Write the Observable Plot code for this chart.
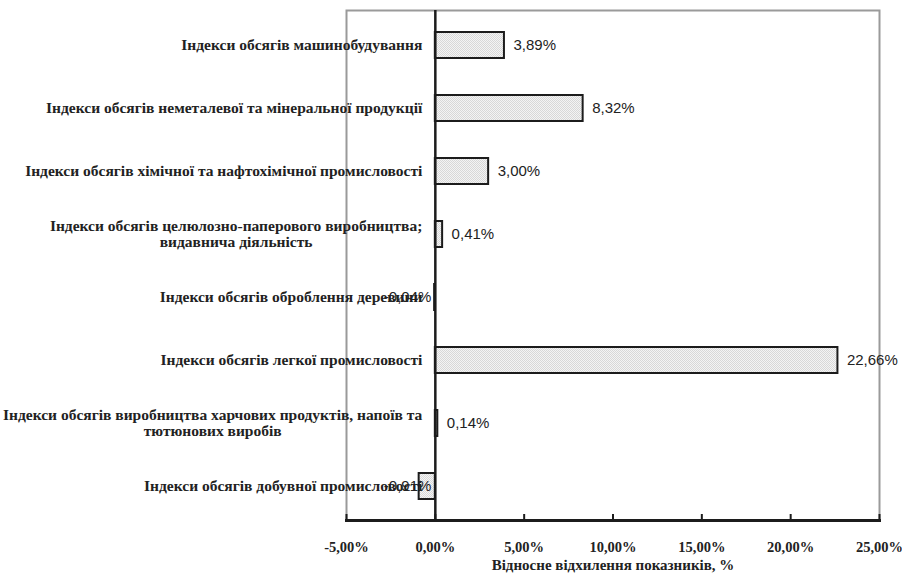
<!DOCTYPE html>
<html>
<head>
<meta charset="utf-8">
<script src="https://cdn.jsdelivr.net/npm/d3@7"></script>
<script src="https://cdn.jsdelivr.net/npm/@observablehq/plot@0.6"></script>
<style>
  html, body { margin: 0; padding: 0; background: #fff; }
  #chart { width: 902px; height: 576px; }
</style>
</head>
<body>
<div id="chart"></div>
<script>
const categories = [
  "Індекси обсягів машинобудування",
  "Індекси обсягів неметалевої та мінеральної продукції",
  "Індекси обсягів хімічної та нафтохімічної промисловості",
  "Індекси обсягів целюлозно-паперового виробництва;\nвидавнича діяльність",
  "Індекси обсягів оброблення деревини",
  "Індекси обсягів легкої промисловості",
  "Індекси обсягів виробництва харчових продуктів, напоїв та\nтютюнових виробів",
  "Індекси обсягів добувної промисловості"
];
const values = [3.89, 8.32, 3.00, 0.41, -0.04, 22.66, 0.14, -0.91];
const tickValues = [-5, 0, 5, 10, 15, 20, 25];
const xTitle = "Відносне відхилення показників, %";

const data = categories.map((c, i) => ({cat: c, value: values[i]}));
const fmt = v => v.toFixed(2).replace(".", ",") + "%";

const serif = "'Liberation Serif', 'Times New Roman', serif";
const sans = "'Liberation Sans', Arial, sans-serif";
const catFontSize = 15.5;

// measure widths for centered multi-line category labels
const ctx = document.createElement("canvas").getContext("2d");
ctx.font = `bold ${catFontSize}px 'Liberation Serif'`;
const lineEntries = [];
categories.forEach(c => {
  const lines = c.split("\n");
  const widths = lines.map(l => ctx.measureText(l).width);
  const bw = Math.max(...widths);
  lines.forEach((l, i) => {
    lineEntries.push({
      cat: c,
      line: l,
      dy: (i - (lines.length - 1) / 2) * 16,
      dx: -13 - (bw - widths[i]) / 2
    });
  });
});

const catMarks = lineEntries.map(e => Plot.text([e], {
  x: () => 0, y: "cat", text: "line", dx: e.dx, dy: e.dy,
  textAnchor: "end", fontFamily: serif, fontWeight: "bold",
  fontSize: catFontSize, fill: "#222"
}));

const chart = Plot.plot({
  width: 902,
  height: 576,
  marginLeft: 346,
  marginRight: 23,
  marginTop: 10,
  marginBottom: 56,
  style: {fontFamily: serif, background: "#fff"},
  x: {domain: [-5, 25], axis: null},
  y: {domain: categories, axis: null, paddingInner: 0.59, paddingOuter: 0.295},
  marks: [
    Plot.frame({stroke: "#9a9a9a", strokeWidth: 2}),
    Plot.barX(data, {x: "value", y: "cat", fill: "url(#dotpat)", stroke: "#1c1c1c", strokeWidth: 2}),
    ...catMarks,
    Plot.ruleX([0], {stroke: "#1c1c1c", strokeWidth: 2.5}),
    Plot.ruleX(tickValues, {x: d => d, insetTop: 510 - 6, stroke: "#1c1c1c", strokeWidth: 2}),
    Plot.frame({anchor: "bottom", stroke: "#1c1c1c", strokeWidth: 3}),
    Plot.text(data.filter(d => d.value >= 0), {x: "value", y: "cat", text: d => fmt(d.value), textAnchor: "start", dx: 9, fontFamily: sans, fontSize: 15, fill: "#222"}),
    Plot.text(data.filter(d => d.value < 0), {x: () => 0, y: "cat", text: d => fmt(d.value), textAnchor: "end", dx: -4, fontFamily: sans, fontSize: 15, fill: "#222"}),
    Plot.text(tickValues, {x: d => d, frameAnchor: "bottom", dy: 31, text: d => fmt(d), fontFamily: serif, fontWeight: "bold", fontSize: 14.5, fill: "#222"}),
    Plot.text([xTitle], {frameAnchor: "bottom", dy: 49, text: d => d, fontFamily: serif, fontWeight: "bold", fontSize: 15, fill: "#222"})
  ]
});

// pattern for bar fill
const ns = "http://www.w3.org/2000/svg";
const defs = document.createElementNS(ns, "defs");
const pat = document.createElementNS(ns, "pattern");
pat.setAttribute("id", "dotpat");
pat.setAttribute("width", "2");
pat.setAttribute("height", "2");
pat.setAttribute("patternUnits", "userSpaceOnUse");
const bg = document.createElementNS(ns, "rect");
bg.setAttribute("width", "2"); bg.setAttribute("height", "2"); bg.setAttribute("fill", "#f4f4f4");
pat.appendChild(bg);
[[0, 0], [1, 1]].forEach(([px, py]) => {
  const r = document.createElementNS(ns, "rect");
  r.setAttribute("x", px); r.setAttribute("y", py);
  r.setAttribute("width", "1"); r.setAttribute("height", "1");
  r.setAttribute("fill", "#d8d8d8");
  pat.appendChild(r);
});
defs.appendChild(pat);
chart.insertBefore(defs, chart.firstChild);

document.getElementById("chart").appendChild(chart);
</script>
</body>
</html>
